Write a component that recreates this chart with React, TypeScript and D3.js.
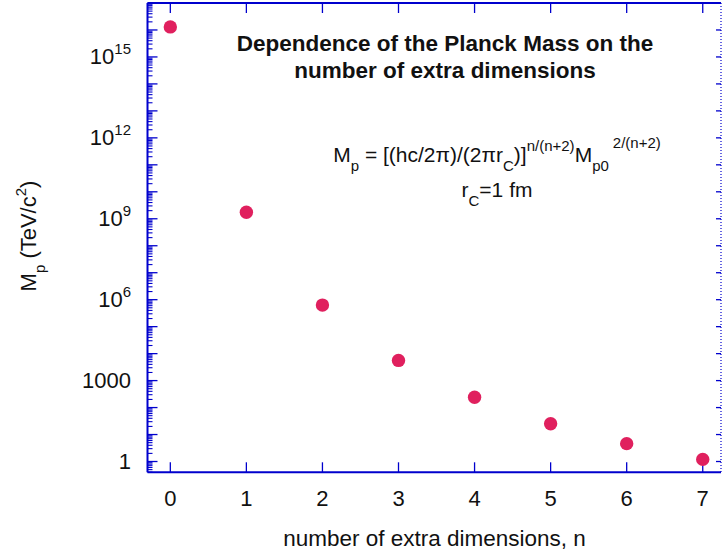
import React from "react";
import * as d3 from "d3";

const nValues = [0, 1, 2, 3, 4, 5, 6, 7];
const planckMass = [1.3e16, 1.75e9, 6.3e5, 5.6e3, 240, 25, 4.6, 1.2];
const xTickValues = [0, 1, 2, 3, 4, 5, 6, 7];
const yTickExponents = [0, 3, 6, 9, 12, 15];
const titleLines = ["Dependence of the Planck Mass on the", "number of extra dimensions"];
const xTitle = "number of extra dimensions, n";

const W = 722;
const H = 558;
const L = 147.5;
const R = 721;
const T = 3;
const B = 472.3;
const AXIS = "#0000cd";
const DOT = "#e0205e";
const FONT = "'Liberation Sans', Arial, Helvetica, sans-serif";

export default function App() {
  const x = d3.scaleLinear().domain([-0.3, 7.24]).range([L, R]);
  const y = d3.scaleLog().domain([Math.pow(10, -0.4), 1e17]).range([B, T]);

  const minor: number[] = [];
  const major: number[] = [];
  for (let e = -1; e <= 17; e++) {
    const base = Math.pow(10, e);
    if (base >= y.domain()[0] && base <= 1e17) major.push(base);
    for (let k = 2; k <= 9; k++) {
      const v = k * base;
      if (v >= y.domain()[0] && v <= 1e17) minor.push(v);
    }
  }

  return (
    <svg
      width={W}
      height={H}
      style={{ position: "absolute", left: 0, top: 0, background: "#fff" }}
      fontFamily={FONT}
    >
      <rect x={0} y={0} width={W} height={H} fill="#fff" />
      {/* frame */}
      <line x1={L} x2={R} y1={B} y2={B} stroke={AXIS} strokeWidth={2} />
      <line x1={L} x2={R} y1={T} y2={T} stroke={AXIS} strokeWidth={2} />
      <line x1={L} x2={L} y1={T} y2={B} stroke={AXIS} strokeWidth={2} />
      <line x1={R} x2={R} y1={T} y2={B} stroke={AXIS} strokeWidth={1.2} strokeDasharray="1,2" />

      {/* x ticks */}
      {xTickValues.map((v) => (
        <g key={"xt" + v}>
          <line x1={x(v)} x2={x(v)} y1={B} y2={B - 10} stroke={AXIS} strokeWidth={1.3} />
          <line x1={x(v)} x2={x(v)} y1={T} y2={T + 10} stroke={AXIS} strokeWidth={1.3} />
          <text x={x(v)} y={506} fontSize={22} textAnchor="middle" fill="#111">
            {v}
          </text>
        </g>
      ))}

      {/* y ticks */}
      {major.map((v, i) => (
        <g key={"ym" + i}>
          <line x1={L} x2={L + 10} y1={y(v)} y2={y(v)} stroke={AXIS} strokeWidth={1.3} />
          <line x1={R - 5} x2={R} y1={y(v)} y2={y(v)} stroke={AXIS} strokeWidth={1.3} />
        </g>
      ))}
      {minor.map((v, i) => (
        <line key={"yn" + i} x1={L} x2={L + 5} y1={y(v)} y2={y(v)} stroke={AXIS} strokeWidth={1.1} />
      ))}
      {yTickExponents.map((e) => {
        const yy = y(Math.pow(10, e)) + 7.5;
        if (e === 0) return <text key={e} x={131} y={yy} fontSize={22} textAnchor="end" fill="#111">1</text>;
        if (e === 3) return <text key={e} x={131} y={yy} fontSize={22} textAnchor="end" fill="#111">1000</text>;
        return (
          <text key={e} x={131} y={yy} fontSize={22} textAnchor="end" fill="#111">
            10
            <tspan fontSize={15} dy={-10}>{e}</tspan>
          </text>
        );
      })}

      {/* points */}
      {nValues.map((n, i) => (
        <circle key={"p" + n} cx={x(n)} cy={y(planckMass[i])} r={6.7} fill={DOT} />
      ))}

      {/* title */}
      {titleLines.map((t, i) => (
        <text key={"t" + i} x={445} y={51 + i * 26.5} fontSize={22.5} fontWeight="bold" textAnchor="middle" fill="#111">
          {t}
        </text>
      ))}

      {/* formula */}
      <text x={497} y={161.7} fontSize={21} textAnchor="middle" fill="#111">
        M
        <tspan fontSize={15} dy={9}>p</tspan>
        <tspan dy={-9}>{" = [(hc/2\u03c0)/(2\u03c0r"}</tspan>
        <tspan fontSize={15} dy={9}>C</tspan>
        <tspan dy={-9}>)]</tspan>
        <tspan fontSize={15} dy={-11}>n/(n+2)</tspan>
        <tspan dy={11}>M</tspan>
        <tspan fontSize={15} dy={9}>p0</tspan>
        <tspan fontSize={15} dx={4} dy={-23}>2/(n+2)</tspan>
      </text>
      <text x={497} y={197.3} fontSize={21} textAnchor="middle" fill="#111">
        r
        <tspan fontSize={15} dy={9}>C</tspan>
        <tspan dy={-9}>=1 fm</tspan>
      </text>

      {/* axis titles */}
      <text x={434.5} y={546} fontSize={22.5} textAnchor="middle" fill="#111">
        {xTitle}
      </text>
      <text transform="translate(36,236) rotate(-90)" fontSize={22} textAnchor="middle" fill="#111">
        M
        <tspan fontSize={15} dy={9}>p</tspan>
        <tspan dy={-9}>{" (TeV/c"}</tspan>
        <tspan fontSize={15} dy={-10}>2</tspan>
        <tspan dy={10}>)</tspan>
      </text>
    </svg>
  );
}
